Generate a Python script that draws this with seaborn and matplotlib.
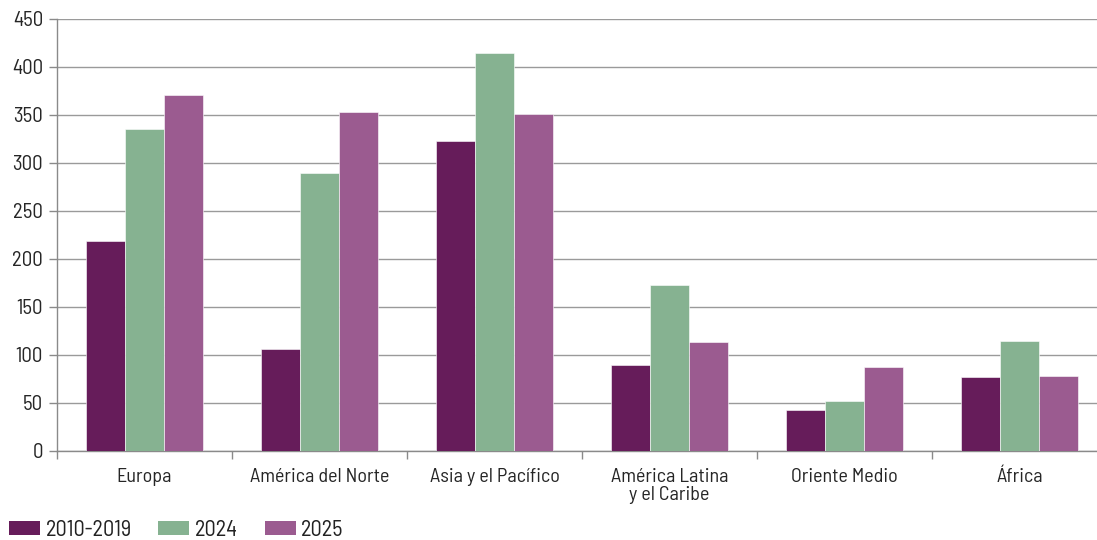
import matplotlib
matplotlib.use("Agg")
import matplotlib.pyplot as plt
from matplotlib.patches import Patch
import seaborn as sns
import pandas as pd

regions = ["Europa", "América del Norte", "Asia y el Pacífico",
           "América Latina\ny el Caribe", "Oriente Medio", "África"]
periods = ["2010-2019", "2024", "2025"]
v_2010_2019 = [219, 106, 323, 90, 43, 77]
v_2024 = [335, 290, 415, 173, 52, 115]
v_2025 = [371, 353, 351, 114, 87, 78]
colors = ["#661C5A", "#86B291", "#9B5B90"]
yticks = [0, 50, 100, 150, 200, 250, 300, 350, 400, 450]

df = pd.DataFrame({
    "region": regions * 3,
    "periodo": [periods[0]] * 6 + [periods[1]] * 6 + [periods[2]] * 6,
    "valor": v_2010_2019 + v_2024 + v_2025,
})

sns.set_theme(style="white")
plt.rcParams["font.family"] = ["Barlow Semi Condensed", "DejaVu Sans"]
plt.rcParams["text.color"] = "#222222"

fig = plt.figure(figsize=(10.97, 5.40), dpi=100)
W, H = 1097, 540
ax = fig.add_axes([57 / W, 1 - 451 / H, (1097 - 57) / W, (451 - 19) / H])

sns.barplot(data=df, x="region", y="valor", hue="periodo", order=regions,
            hue_order=periods, palette=colors, width=0.67, saturation=1,
            edgecolor="white", linewidth=0.4, legend=False, ax=ax, zorder=3)

ax.set_yticks(yticks)
ax.set_yticklabels([str(t) for t in yticks])
# ticks between category groups on the x axis
ax.set_xticks([i + 0.5 for i in range(-1, 6)], minor=True)
ax.set_ylim(0, 450)
ax.set_xlim(-0.5, 5.5 - 10 / 175)
ax.yaxis.grid(True, color="#9a9a9a", linewidth=1.0, zorder=0)
ax.set_axisbelow(True)
ax.set_xlabel("")
ax.set_ylabel("")

for side in ["top", "right"]:
    ax.spines[side].set_visible(False)
for side in ["left", "bottom"]:
    ax.spines[side].set_color("#8a8a8a")
    ax.spines[side].set_linewidth(1.0)

ax.tick_params(axis="x", which="minor", bottom=True, length=6, color="#8a8a8a",
               width=1, direction="out")
ax.tick_params(axis="x", which="major", bottom=False, length=0, pad=12,
               labelsize=14.5)
ax.tick_params(axis="y", left=True, length=6, color="#8a8a8a", width=1, pad=4,
               labelsize=15)
for lbl in ax.get_xticklabels():
    lbl.set_linespacing(1.0)
    lbl.set_verticalalignment("top")

handles = [Patch(facecolor=c, edgecolor="none") for c in colors]
fig.legend(handles, periods, loc="lower left", bbox_to_anchor=(0 / W, -10 / H),
           ncol=3, frameon=False, fontsize=16, handlelength=1.4,
           handleheight=0.6, handletextpad=0.25, columnspacing=1.2,
           borderaxespad=0)

fig.savefig("out.png", dpi=100)
